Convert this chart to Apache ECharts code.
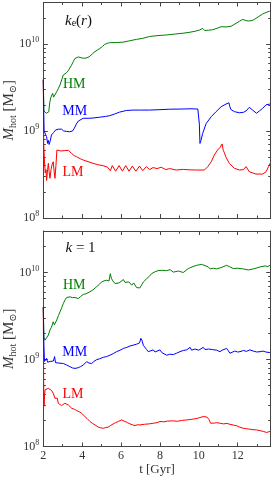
<!DOCTYPE html>
<html><head><meta charset="utf-8">
<script src="https://cdn.jsdelivr.net/npm/echarts@6/dist/echarts.min.js"></script>
<style>html,body{margin:0;padding:0;background:#fff}#c{width:274px;height:480px}</style>
</head><body><div id="c"></div>
<script>
// ---- tick values ----
const xMajor = [2, 4, 6, 8, 10, 12];
const xMinor = [3, 5, 7, 9, 11, 13];
const yMajor = [1e8, 1e9, 1e10];
const yMinor = [2e8,3e8,4e8,5e8,6e8,7e8,8e8,9e8,2e9,3e9,4e9,5e9,6e9,7e9,8e9,9e9,2e10];
const seriesNames = ['HM', 'MM', 'LM'];

// ---- top panel: k_e(r) ----  [t (Gyr), M_hot (Msun)]
const hmTop = [[2.0,3.8e9],[2.03,1.7e9],[2.08,1.62e9],[2.15,1.6e9],[2.22,1.63e9],[2.28,1.66e9],[2.33,2.1e9],[2.38,2.4e9],[2.43,2.5e9],[2.48,2.71e9],[2.53,2.45e9],[2.58,2.55e9],[2.69,2.83e9],[2.78,3.1e9],[2.86,3.38e9],[2.95,3.9e9],[3.03,4.4e9],[3.12,4.5e9],[3.2,4.68e9],[3.3,5.0e9],[3.37,5.25e9],[3.45,5.7e9],[3.54,6.26e9],[3.62,6.8e9],[3.71,7.15e9],[3.8,7.1e9],[3.88,7.0e9],[4.0,6.9e9],[4.14,6.85e9],[4.25,6.95e9],[4.39,7.2e9],[4.52,7.7e9],[4.65,8.15e9],[4.78,8.5e9],[4.91,8.9e9],[5.05,9.4e9],[5.16,9.9e9],[5.3,1.02e10],[5.42,1.035e10],[5.75,1.04e10],[6.1,1.05e10],[6.45,1.09e10],[6.79,1.13e10],[7.1,1.16e10],[7.47,1.22e10],[7.9,1.25e10],[8.33,1.27e10],[8.75,1.3e10],[9.18,1.33e10],[9.5,1.36e10],[9.8,1.4e10],[10.04,1.45e10],[10.2,1.51e10],[10.3,1.43e10],[10.5,1.44e10],[10.72,1.46e10],[10.95,1.52e10],[11.15,1.58e10],[11.4,1.57e10],[11.66,1.6e10],[11.92,1.73e10],[12.1,1.83e10],[12.26,1.92e10],[12.34,1.97e10],[12.42,1.86e10],[12.55,1.84e10],[12.69,1.85e10],[12.82,1.9e10],[12.94,1.97e10],[13.1,2.08e10],[13.28,2.21e10],[13.45,2.3e10],[13.65,2.39e10]];
const mmTop = [[2.0,3.9e9],[2.02,1.8e9],[2.04,1.0e9],[2.08,9.6e8],[2.12,1.0e9],[2.17,8.6e8],[2.22,7.2e8],[2.26,7.8e8],[2.3,7.0e8],[2.35,7.6e8],[2.42,9.0e8],[2.48,8.6e8],[2.53,9.6e8],[2.58,9.3e8],[2.64,1.03e9],[2.7,1.0e9],[2.78,1.05e9],[2.85,1.02e9],[2.94,1.05e9],[3.05,1.0e9],[3.2,9.9e8],[3.35,9.8e8],[3.5,1.0e9],[3.6,1.08e9],[3.7,1.2e9],[3.8,1.3e9],[3.9,1.36e9],[4.05,1.4e9],[4.3,1.4e9],[4.56,1.41e9],[4.9,1.44e9],[5.2,1.47e9],[5.42,1.5e9],[5.68,1.57e9],[5.93,1.65e9],[6.27,1.72e9],[6.62,1.74e9],[7.0,1.74e9],[7.47,1.74e9],[8.0,1.76e9],[8.5,1.78e9],[9.18,1.79e9],[9.6,1.8e9],[9.95,1.79e9],[10.0,1.75e9],[10.03,1.2e9],[10.06,7.2e8],[10.1,7.6e8],[10.2,9.4e8],[10.38,1.22e9],[10.64,1.46e9],[10.89,1.67e9],[11.15,1.9e9],[11.4,2.04e9],[11.55,2.11e9],[11.6,1.9e9],[11.65,1.77e9],[11.83,1.67e9],[12.09,1.62e9],[12.3,1.64e9],[12.43,1.7e9],[12.6,1.87e9],[12.77,1.74e9],[12.97,1.6e9],[13.12,1.7e9],[13.28,1.82e9],[13.46,2.0e9],[13.66,2.04e9]];
const lmTop = [[2.0,3.9e9],[2.02,7.2e8],[2.06,4.5e8],[2.1,3.3e8],[2.14,3.6e8],[2.17,2.7e8],[2.22,3.6e8],[2.26,4.25e8],[2.3,3.4e8],[2.34,2.86e8],[2.4,3.6e8],[2.45,4.1e8],[2.51,4.43e8],[2.56,3.4e8],[2.6,2.86e8],[2.65,4.0e8],[2.7,6.05e8],[2.8,6.0e8],[2.9,5.9e8],[3.0,6.0e8],[3.1,5.95e8],[3.2,5.85e8],[3.3,6.0e8],[3.38,6.05e8],[3.46,5.5e8],[3.6,5.2e8],[3.71,5.07e8],[3.9,4.8e8],[4.05,4.64e8],[4.3,4.45e8],[4.56,4.25e8],[4.8,4.1e8],[5.08,3.99e8],[5.3,3.85e8],[5.45,3.5e8],[5.55,4.0e8],[5.72,3.45e8],[5.9,4.0e8],[6.07,3.45e8],[6.24,4.0e8],[6.41,3.45e8],[6.58,3.95e8],[6.76,3.45e8],[6.95,3.95e8],[7.12,3.5e8],[7.3,3.9e8],[7.47,3.6e8],[7.65,3.8e8],[7.85,3.7e8],[8.07,3.83e8],[8.3,3.6e8],[8.5,3.7e8],[8.84,3.56e8],[9.2,3.62e8],[9.5,3.58e8],[9.87,3.56e8],[10.29,3.56e8],[10.46,3.89e8],[10.64,4.43e8],[10.8,5.3e8],[10.97,6.05e8],[11.1,6.5e8],[11.2,7.1e8],[11.26,6.0e8],[11.32,5.6e8],[11.4,5.0e8],[11.57,4.25e8],[11.83,3.73e8],[12.09,3.56e8],[12.3,3.6e8],[12.43,3.9e8],[12.5,3.7e8],[12.6,3.4e8],[12.94,3.2e8],[13.28,3.2e8],[13.46,3.4e8],[13.59,3.9e8],[13.66,4.25e8]];

// ---- bottom panel: k = 1 ----
const hmBot = [[2.0,4.0e9],[2.03,1.8e9],[2.09,1.67e9],[2.17,1.75e9],[2.26,1.91e9],[2.34,2.18e9],[2.42,2.35e9],[2.51,2.71e9],[2.57,2.5e9],[2.63,2.6e9],[2.69,2.84e9],[2.78,3.2e9],[2.86,3.53e9],[2.95,3.95e9],[3.03,4.4e9],[3.12,4.85e9],[3.2,5.16e9],[3.3,5.2e9],[3.37,5.25e9],[3.5,5.15e9],[3.63,5.16e9],[3.72,5.0e9],[3.8,5.02e9],[3.92,5.3e9],[4.06,5.59e9],[4.2,5.7e9],[4.4,6.0e9],[4.55,6.3e9],[4.74,6.85e9],[4.88,7.3e9],[5.0,7.8e9],[5.12,8.0e9],[5.26,8.15e9],[5.38,8.0e9],[5.45,9.7e9],[5.5,8.6e9],[5.58,8.0e9],[5.69,7.46e9],[5.77,7.1e9],[5.9,7.6e9],[6.0,7.9e9],[6.12,8.3e9],[6.2,7.7e9],[6.3,8.1e9],[6.4,7.8e9],[6.55,7.15e9],[6.65,7.6e9],[6.8,6.7e9],[6.88,6.9e9],[6.97,6.65e9],[7.06,7.2e9],[7.15,7.8e9],[7.32,8.5e9],[7.45,9.0e9],[7.57,9.7e9],[7.75,1.02e10],[7.9,1.05e10],[8.0,1.1e10],[8.1,1.06e10],[8.17,1.08e10],[8.35,1.05e10],[8.52,1.08e10],[8.69,1.01e10],[8.95,1.04e10],[9.2,1.0e10],[9.46,1.11e10],[9.7,1.17e10],[9.89,1.21e10],[10.15,1.24e10],[10.32,1.2e10],[10.49,1.16e10],[10.58,1.1e10],[10.75,1.12e10],[10.92,1.1e10],[11.2,1.15e10],[11.43,1.21e10],[11.6,1.16e10],[11.78,1.11e10],[12.0,1.12e10],[12.29,1.1e10],[12.55,1.07e10],[12.8,1.1e10],[13.0,1.13e10],[13.15,1.16e10],[13.41,1.19e10],[13.55,1.17e10],[13.66,1.21e10]];
const mmBot = [[2.0,4.0e9],[2.03,1.5e9],[2.06,9.5e8],[2.1,9.6e8],[2.17,1.03e9],[2.22,9.3e8],[2.26,9.0e8],[2.35,9.5e8],[2.43,9.3e8],[2.52,9.6e8],[2.58,1.08e9],[2.63,9.2e8],[2.7,9.4e8],[2.8,9.1e8],[2.9,9.3e8],[3.03,9.0e8],[3.12,8.9e8],[3.2,8.65e8],[3.3,8.4e8],[3.37,8.27e8],[3.5,8.0e8],[3.63,7.9e8],[3.72,7.85e8],[3.8,8.05e8],[3.92,8.3e8],[4.06,8.65e8],[4.15,9.0e8],[4.23,9.45e8],[4.35,9.1e8],[4.49,9.0e8],[4.6,9.5e8],[4.74,9.94e8],[4.9,1.02e9],[5.09,1.06e9],[5.25,1.08e9],[5.43,1.12e9],[5.6,1.17e9],[5.77,1.23e9],[5.95,1.28e9],[6.12,1.34e9],[6.3,1.38e9],[6.46,1.43e9],[6.62,1.46e9],[6.8,1.5e9],[6.95,1.55e9],[7.02,1.75e9],[7.08,1.65e9],[7.15,1.45e9],[7.23,1.4e9],[7.32,1.3e9],[7.4,1.23e9],[7.5,1.26e9],[7.66,1.29e9],[7.75,1.22e9],[7.85,1.25e9],[8.0,1.29e9],[8.1,1.2e9],[8.2,1.18e9],[8.35,1.12e9],[8.5,1.15e9],[8.69,1.14e9],[8.85,1.18e9],[9.03,1.23e9],[9.2,1.27e9],[9.38,1.29e9],[9.45,1.35e9],[9.55,1.38e9],[9.63,1.28e9],[9.72,1.26e9],[9.8,1.32e9],[9.89,1.34e9],[10.0,1.28e9],[10.1,1.33e9],[10.23,1.38e9],[10.32,1.3e9],[10.4,1.27e9],[10.5,1.32e9],[10.58,1.34e9],[10.7,1.3e9],[10.8,1.33e9],[10.92,1.28e9],[11.09,1.23e9],[11.2,1.28e9],[11.3,1.32e9],[11.43,1.34e9],[11.52,1.26e9],[11.6,1.18e9],[11.7,1.22e9],[11.85,1.25e9],[12.0,1.22e9],[12.12,1.23e9],[12.3,1.27e9],[12.45,1.24e9],[12.63,1.29e9],[12.8,1.25e9],[12.98,1.22e9],[13.15,1.23e9],[13.3,1.25e9],[13.45,1.22e9],[13.66,1.2e9]];
const lmBot = [[2.0,4.0e9],[2.02,5.0e8],[2.04,2.9e8],[2.06,3.8e8],[2.09,4.47e8],[2.17,4.5e8],[2.26,4.67e8],[2.35,4.55e8],[2.43,4.4e8],[2.51,4.1e8],[2.6,3.58e8],[2.65,3.7e8],[2.69,3.42e8],[2.72,3.6e8],[2.77,3.14e8],[2.85,3.0e8],[2.94,2.95e8],[3.03,3.05e8],[3.11,3.14e8],[3.2,3.05e8],[3.29,3.0e8],[3.38,2.85e8],[3.46,2.75e8],[3.6,2.68e8],[3.72,2.59e8],[3.85,2.5e8],[3.97,2.41e8],[4.05,2.35e8],[4.14,2.21e8],[4.25,2.1e8],[4.4,1.94e8],[4.52,1.85e8],[4.66,1.77e8],[4.75,1.7e8],[4.83,1.67e8],[4.95,1.64e8],[5.09,1.62e8],[5.2,1.65e8],[5.34,1.67e8],[5.47,1.75e8],[5.6,1.82e8],[5.72,1.88e8],[5.86,1.94e8],[6.03,2.02e8],[6.1,1.98e8],[6.2,1.94e8],[6.33,1.88e8],[6.46,1.82e8],[6.6,1.77e8],[6.72,1.74e8],[6.85,1.78e8],[6.97,1.77e8],[7.2,1.8e8],[7.45,1.82e8],[7.66,1.85e8],[7.85,1.88e8],[8.0,1.94e8],[8.2,1.92e8],[8.4,1.96e8],[8.69,1.97e8],[8.9,1.95e8],[9.1,1.99e8],[9.38,2.02e8],[9.55,2.04e8],[9.72,2.07e8],[9.9,2.1e8],[10.06,2.15e8],[10.15,2.12e8],[10.23,2.21e8],[10.32,2.15e8],[10.42,2.18e8],[10.52,2.05e8],[10.61,1.85e8],[10.7,1.9e8],[10.8,1.86e8],[10.92,1.88e8],[11.1,1.85e8],[11.26,1.82e8],[11.45,1.84e8],[11.6,1.8e8],[11.8,1.76e8],[11.95,1.73e8],[12.1,1.67e8],[12.29,1.62e8],[12.45,1.6e8],[12.63,1.58e8],[12.8,1.56e8],[12.98,1.55e8],[13.15,1.52e8],[13.32,1.49e8],[13.49,1.45e8],[13.58,1.47e8],[13.66,1.49e8]];

// ---- styling ----
const FONT = '"Liberation Serif","DejaVu Serif",serif';
const FRAME = '#444';
const TXT = '#333';
const COLORS = {HM: '#008000', MM: '#0000ff', LM: '#ff0000'};
const X_MIN = 2, X_MAX = 13.7, Y_MIN = 1e8, Y_MAX = 3e10;

function xAx(grid, pos, ticks, len, line, labels, name) {
  return {
    type: 'value', gridIndex: grid, position: pos, min: X_MIN, max: X_MAX,
    name: name || '', nameLocation: 'middle', nameGap: 17, nameMoveOverlap: false,
    nameTextStyle: {fontFamily: FONT, fontSize: 13, color: TXT},
    axisLine: {show: line, onZero: false, lineStyle: {color: FRAME, width: 1}},
    axisTick: {show: true, inside: true, length: len, customValues: ticks, lineStyle: {color: FRAME, width: 1}},
    axisLabel: {show: labels, customValues: xMajor, margin: 3, fontFamily: FONT, fontSize: 12, color: TXT,
      formatter: v => String(v)},
    splitLine: {show: false}
  };
}
const supStyle = {fontFamily: FONT, fontSize: 8, color: TXT, lineHeight: 9, verticalAlign: 'top', align: 'right'};
const baseStyle = {fontFamily: FONT, fontSize: 12, color: TXT, lineHeight: 16, align: 'right'};
function yAx(grid, pos, ticks, len, line, labels) {
  return {
    type: 'log', logBase: 10, gridIndex: grid, position: pos, min: Y_MIN, max: Y_MAX,
    name: labels ? '{i|M}{s|hot}{r| [M}{s|\u2299}{r|]}' : '', nameLocation: 'middle', nameGap: 25, nameMoveOverlap: false,
    nameTextStyle: {fontFamily: FONT, fontSize: 15, color: TXT, lineHeight: 18,
      rich: {i: {fontFamily: FONT, fontStyle: 'italic', fontSize: 15, color: TXT, lineHeight: 18},
             r: {fontFamily: FONT, fontSize: 15, color: TXT, lineHeight: 18},
             s: {fontFamily: FONT, fontSize: 10, color: TXT, lineHeight: 11, verticalAlign: 'bottom'}}},
    axisLine: {show: line, onZero: false, lineStyle: {color: FRAME, width: 1}},
    axisTick: {show: true, inside: true, length: len, customValues: ticks, lineStyle: {color: FRAME, width: 1}},
    axisLabel: {show: labels, customValues: yMajor, margin: 4, align: 'right', fontFamily: FONT, fontSize: 12, color: TXT, lineHeight: 16,
      formatter: v => '{b|10}{s|' + Math.round(Math.log10(v)) + '}',
      rich: {b: baseStyle, s: supStyle}},
    splitLine: {show: false}
  };
}
function lineSeries(name, data, xi, yi) {
  return {type: 'line', name, data, xAxisIndex: xi, yAxisIndex: yi, showSymbol: false, symbol: 'none',
    lineStyle: {color: COLORS[name], width: 1}, itemStyle: {color: COLORS[name]}, animation: false, silent: true, z: name === 'MM' ? 4 : 3};
}
function lbl(text, x, y, color) {
  return {type: 'text', x, y, silent: true,
    style: {text, fill: color, fontFamily: FONT, fontSize: 14, align: 'center', verticalAlign: 'middle'}};
}
function richLbl(text, x, y) {
  return {type: 'text', x, y, silent: true,
    style: {text, fill: '#111', fontFamily: FONT, fontSize: 15, align: 'left', verticalAlign: 'middle',
      rich: {i: {fontFamily: FONT, fontStyle: 'italic', fontSize: 15, fill: '#111', align: 'left'},
             r: {fontFamily: FONT, fontSize: 15, fill: '#111', align: 'left'},
             s: {fontFamily: FONT, fontSize: 10, fill: '#111', align: 'left', verticalAlign: 'bottom', lineHeight: 12}}}};
}

const chart = echarts.init(document.getElementById('c'), null, {renderer: 'canvas'});
chart.setOption({
  animation: false,
  backgroundColor: '#fff',
  grid: [
    {left: 43.3, right: 3.3, top: 2.5, height: 215.5, containLabel: false, outerBoundsMode: 'none'},
    {left: 43.3, right: 3.3, top: 231, height: 215.5, containLabel: false, outerBoundsMode: 'none'}
  ],
  xAxis: [
    xAx(0, 'bottom', xMajor, 4, true, false), xAx(0, 'bottom', xMinor, 2.5, false, false),
    xAx(0, 'top', xMajor, 4, true, false), xAx(0, 'top', xMinor, 2.5, false, false),
    xAx(1, 'bottom', xMajor, 4, true, true, 't [Gyr]'), xAx(1, 'bottom', xMinor, 2.5, false, false),
    xAx(1, 'top', xMajor, 4, true, false), xAx(1, 'top', xMinor, 2.5, false, false)
  ],
  yAxis: [
    yAx(0, 'left', yMajor, 4.5, true, true), yAx(0, 'left', yMinor, 2.5, false, false),
    yAx(0, 'right', yMajor, 4.5, true, false), yAx(0, 'right', yMinor, 2.5, false, false),
    yAx(1, 'left', yMajor, 4.5, true, true), yAx(1, 'left', yMinor, 2.5, false, false),
    yAx(1, 'right', yMajor, 4.5, true, false), yAx(1, 'right', yMinor, 2.5, false, false)
  ],
  series: [
    lineSeries('LM', lmTop, 0, 0), lineSeries('HM', hmTop, 0, 0), lineSeries('MM', mmTop, 0, 0),
    lineSeries('LM', lmBot, 4, 4), lineSeries('HM', hmBot, 4, 4), lineSeries('MM', mmBot, 4, 4)
  ],
  graphic: [
    richLbl('{i|k}{s|e}{r|(}{i|r}{r|)}', 65, 21),
    richLbl('{i|k}{r| = 1}', 65.5, 248),
    lbl(seriesNames[0], 74.2, 84.5, COLORS.HM), lbl(seriesNames[1], 74.8, 111.3, COLORS.MM), lbl(seriesNames[2], 73, 172.7, COLORS.LM),
    lbl(seriesNames[0], 74.2, 285, COLORS.HM), lbl(seriesNames[1], 74.8, 352, COLORS.MM), lbl(seriesNames[2], 73, 394.7, COLORS.LM)
  ]
});
</script></body></html>
